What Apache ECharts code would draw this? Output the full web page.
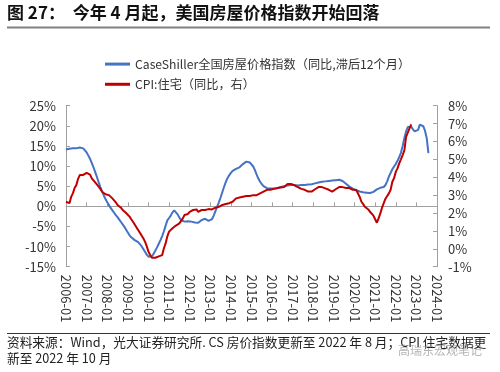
<!DOCTYPE html>
<html>
<head>
<meta charset="utf-8">
<script src="https://cdn.jsdelivr.net/npm/echarts@6/dist/echarts.min.js"></script>
<style>
html,body{margin:0;padding:0;background:#fff;}
#chart{width:500px;height:372px;}
</style>
</head>
<body>
<div id="chart"></div>
<script>
// Monthly categories 2006-01 .. 2024-01
const startYear = 2006, endYear = 2024;
const months = [];
for (let y = startYear; y <= endYear; y++) {
  for (let m = 1; m <= 12; m++) {
    if (y === endYear && m > 1) break;
    months.push(y + '-' + (m < 10 ? '0' + m : m));
  }
}

// CaseShiller national home price index YoY (%), lagged 12 months: 2006-01 .. 2023-08
const caseShiller = [
  14.1,14.2,14.3,14.4,14.4,14.4,14.4,14.5,14.6,14.6,14.4,14.0,
  13.4,12.6,11.8,10.8,9.7,8.5,7.3,6.0,4.8,3.7,2.7,1.8,
  1.0,0.3,-0.4,-1.0,-1.6,-2.2,-2.7,-3.3,-3.9,-4.5,-5.1,-5.8,
  -6.5,-7.2,-7.7,-8.1,-8.4,-8.7,-8.9,-9.3,-9.9,-10.6,-11.3,-12.0,
  -12.5,-12.7,-12.4,-11.8,-11.0,-10.2,-9.3,-8.4,-7.4,-6.2,-4.8,-3.5,
  -2.9,-2.3,-1.5,-1.0,-1.3,-2.0,-2.8,-3.4,-3.7,-3.8,-3.8,-3.7,
  -3.7,-3.8,-3.8,-4.0,-4.2,-4.1,-3.8,-3.4,-3.1,-3.1,-3.4,-3.6,
  -3.6,-3.2,-2.3,-1.2,-0.1,1.0,2.2,3.5,4.8,6.0,7.0,7.7,
  8.3,8.8,9.1,9.3,9.5,9.7,10.0,10.5,10.9,11.1,11.1,10.9,
  10.5,9.9,9.0,7.9,6.9,6.1,5.5,5.0,4.7,4.5,4.4,4.4,
  4.4,4.4,4.4,4.5,4.6,4.8,4.9,5.0,5.1,5.2,5.3,5.3,
  5.3,5.3,5.3,5.2,5.2,5.3,5.3,5.3,5.4,5.4,5.4,5.5,
  5.6,5.7,5.8,5.9,6.0,6.1,6.2,6.2,6.3,6.3,6.3,6.4,
  6.4,6.5,6.6,6.6,6.5,6.3,6.0,5.6,5.2,4.9,4.6,4.4,
  4.2,4.0,3.8,3.7,3.6,3.5,3.4,3.4,3.3,3.3,3.4,3.6,
  3.9,4.2,4.5,4.6,4.7,4.8,5.3,6.2,7.4,8.3,9.2,9.9,
  10.5,11.3,12.2,13.3,15.0,17.0,18.6,19.7,20.1,19.8,19.1,18.6,
  18.4,19.0,20.3,20.4,19.9,18.8,17.0,13.2
];

// CPI: shelter YoY (%), right axis: 2006-01 .. 2022-10
const cpiShelter = [
  2.63,2.55,2.55,2.9,3.1,3.4,3.56,3.9,4.12,4.1,4.13,4.2,
  4.25,4.31,4.15,3.94,3.85,3.71,3.6,3.47,3.35,3.19,3.1,3.05,
  3.0,3.0,2.9,2.82,2.75,2.6,2.45,2.4,2.3,2.17,2.1,2.0,
  1.89,1.8,1.65,1.51,1.4,1.2,1.05,0.95,0.75,0.59,0.4,0.15,
  -0.16,-0.35,-0.5,-0.57,-0.5,-0.4,-0.42,-0.35,-0.35,0.03,0.3,0.7,
  0.96,1.05,1.15,1.24,1.3,1.35,1.42,1.5,1.7,1.89,1.9,1.95,
  2.07,2.1,2.17,2.26,2.2,2.07,2.15,2.17,2.17,2.17,2.2,2.22,
  2.26,2.2,2.25,2.3,2.35,2.35,2.4,2.45,2.45,2.5,2.5,2.55,
  2.6,2.63,2.7,2.82,2.85,2.87,2.9,2.91,2.95,2.95,2.92,2.95,
  3.04,3.0,2.95,3.0,3.05,3.1,3.19,3.2,3.25,3.3,3.29,3.3,
  3.3,3.35,3.38,3.4,3.38,3.43,3.43,3.45,3.55,3.62,3.6,3.62,
  3.6,3.55,3.51,3.45,3.4,3.35,3.32,3.3,3.25,3.2,3.19,3.2,
  3.25,3.33,3.35,3.45,3.51,3.45,3.4,3.38,3.38,3.3,3.25,3.2,
  3.25,3.33,3.4,3.45,3.47,3.45,3.45,3.4,3.45,3.4,3.33,3.3,
  3.28,3.29,3.23,2.9,2.63,2.5,2.35,2.3,2.2,2.07,1.98,1.85,
  1.8,1.46,1.7,1.98,2.3,2.55,2.8,2.82,3.1,3.3,3.75,3.95,
  4.3,4.5,4.78,5.0,5.24,5.5,6.26,6.5,6.73,6.96
];

const seriesNames = ['CaseShiller全国房屋价格指数（同比,滞后12个月）', 'CPI:住宅（同比，右）'];
const titleText = '图 27：  今年 4 月起，美国房屋价格指数开始回落';
const sourceLine1 = '资料来源：Wind，光大证券研究所. CS 房价指数更新至 2022 年 8 月；CPI 住宅数据更';
const sourceLine2 = '新至 2022 年 10 月';

const FONT = '"Noto Sans CJK SC", "Noto Sans", sans-serif';
const axisColor = '#a0a0a0';
const labelColor = '#333';

const chart = echarts.init(document.getElementById('chart'), null, {renderer: 'canvas'});
chart.setOption({
  animation: false,
  backgroundColor: '#fff',
  textStyle: {fontFamily: FONT},
  grid: {left: 66, right: 63, top: 105.7, bottom: 105.3, containLabel: false},
  legend: {
    orient: 'vertical',
    left: 100,
    top: 53,
    itemWidth: 25,
    itemHeight: 3,
    itemGap: 8,
    icon: 'rect',
    textStyle: {fontSize: 12.2, color: labelColor, fontFamily: FONT},
    data: seriesNames
  },
  xAxis: [
    {
      type: 'category',
      data: months,
      boundaryGap: false,
      axisLine: {show: true, onZero: true, onZeroAxisIndex: 0, lineStyle: {color: axisColor, width: 1}},
      axisTick: {show: true, inside: true, length: 4, interval: 11, lineStyle: {color: axisColor}},
      axisLabel: {show: false},
      splitLine: {show: false}
    },
    {
      type: 'category',
      data: months,
      boundaryGap: false,
      position: 'bottom',
      axisLine: {show: false, onZero: false},
      axisTick: {show: false},
      axisLabel: {show: true, interval: 11, rotate: -90, margin: 8, fontSize: 13, color: labelColor, fontFamily: FONT},
      splitLine: {show: false}
    }
  ],
  yAxis: [
    {
      type: 'value', position: 'left', min: -15, max: 25, interval: 5,
      axisLine: {show: true, lineStyle: {color: axisColor}},
      axisTick: {show: true, inside: true, length: 4, lineStyle: {color: axisColor}},
      axisLabel: {formatter: '{value}%', fontSize: 13, color: labelColor, margin: 10, fontFamily: FONT},
      splitLine: {show: false}
    },
    {
      type: 'value', position: 'right', min: -1, max: 8, interval: 1,
      axisLine: {show: true, lineStyle: {color: axisColor}},
      axisTick: {show: true, inside: true, length: 4, lineStyle: {color: axisColor}},
      axisLabel: {formatter: '{value}%', fontSize: 13, color: labelColor, margin: 11, fontFamily: FONT},
      splitLine: {show: false}
    }
  ],
  series: [
    {
      name: seriesNames[0], type: 'line', xAxisIndex: 0, yAxisIndex: 0,
      data: caseShiller, showSymbol: false, symbol: 'none',
      lineStyle: {width: 2, color: '#4472C4'}, itemStyle: {color: '#4472C4'}
    },
    {
      name: seriesNames[1], type: 'line', xAxisIndex: 0, yAxisIndex: 1,
      data: cpiShelter, showSymbol: false, symbol: 'none',
      lineStyle: {width: 2, color: '#C00000'}, itemStyle: {color: '#C00000'}
    }
  ],
  graphic: [
    {type: 'text', left: 7, top: 4, style: {text: titleText, font: 'bold 17px ' + FONT, fill: '#111'}},
    {type: 'rect', shape: {x: 7, y: 26.5, width: 483, height: 2}, style: {fill: '#808080'}},
    {type: 'rect', shape: {x: 7, y: 333, width: 483, height: 1}, style: {fill: '#333'}},
    {type: 'text', left: 7, top: 336, style: {text: sourceLine1, font: '12.7px ' + FONT, fill: '#222'}},
    {type: 'text', left: 7, top: 352, style: {text: sourceLine2, font: '12.7px ' + FONT, fill: '#222'}},
    {type: 'text', left: 398, top: 344, style: {text: '高瑞东宏观笔记', font: '12px ' + FONT, fill: 'rgba(150,150,150,0.7)'}}
  ]
});
</script>
</body>
</html>
